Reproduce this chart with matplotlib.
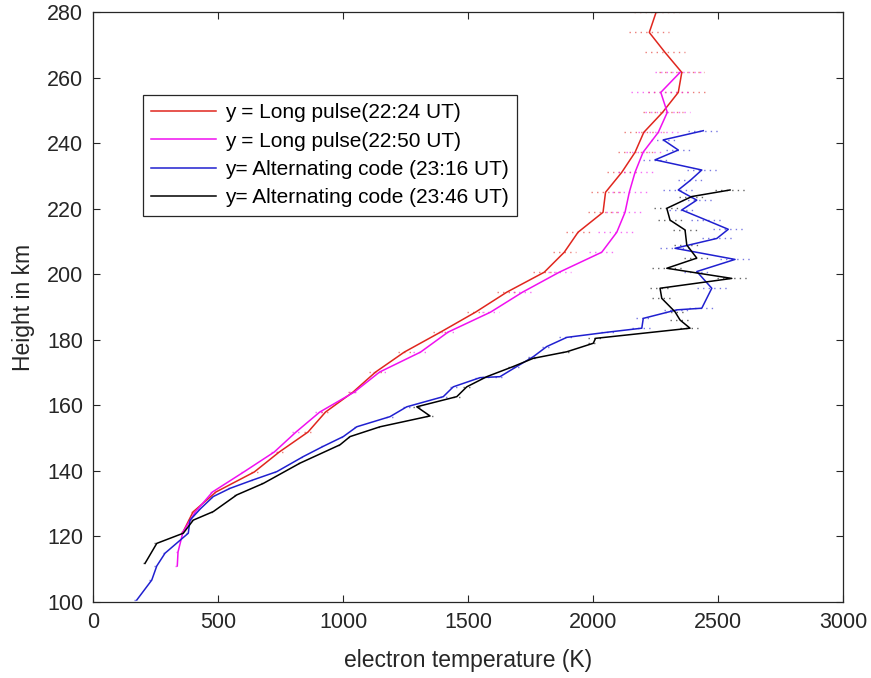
import matplotlib
matplotlib.use("Agg")
import matplotlib.pyplot as plt

plt.rcParams['font.family'] = ['Liberation Sans', 'DejaVu Sans']

# ---- data (height km, electron temperature K, error half-width K) ----
red_h = [280, 273.9, 267.8, 261.7, 255.6, 249.5, 243.4, 237.3, 231.2, 225.1, 219, 212.9, 206.8,
         200.7, 194.6, 188.5, 182.4, 176.3, 170.2, 164.1, 158, 151.9, 145.8, 139.7, 133.6, 127.5, 121.4]
red_t = [2252, 2225, 2288, 2355, 2341, 2278, 2203, 2168, 2115, 2050, 2040, 1940, 1885,
         1805, 1655, 1530, 1390, 1245, 1130, 1040, 930, 860, 745, 645, 492, 400, 360]
red_e = [90, 80, 80, 90, 120, 80, 80, 70, 60, 60, 60, 50, 45,
         45, 40, 35, 30, 25, 25, 20, 20, 15, 15, 15, 10, 10, 10]

mag_h = [261.7, 255.6, 249.5, 243.4, 237.3, 231.2, 225.1, 219, 212.9, 206.8, 200.7, 194.6, 188.5,
         182.4, 176.3, 170.2, 164.1, 158, 151.9, 145.8, 139.7, 133.6, 127.5, 121.4, 115.3, 111]
mag_t = [2348, 2271, 2297, 2261, 2200, 2168, 2145, 2128, 2095, 2035, 1865, 1718, 1590,
         1420, 1310, 1146, 1045, 907, 812, 725, 603, 478, 409, 360, 340, 337]
mag_e = [100, 120, 90, 80, 70, 70, 70, 75, 75, 50, 45, 40, 35,
         30, 30, 25, 20, 20, 15, 15, 10, 10, 10, 10, 10, 10]

blue_h = [243.9, 241.1, 238.0, 235.0, 231.9, 228.8, 225.8, 222.7, 219.7, 216.7, 213.8, 211.0, 208.0,
          204.6, 200.9, 195.8, 189.7, 189.2, 186.6, 183.6, 182.4, 180.8, 178.0, 174.9, 171.9, 168.8,
          168.5, 165.7, 162.7, 159.6, 156.6, 153.5, 150.5, 147.5, 144.4, 139.8, 137.3, 134.7, 132.2,
          128.5, 125.0, 121.0, 114.9, 111.0, 106.7, 100.6]
blue_t = [2441, 2281, 2341, 2248, 2435, 2390, 2341, 2415, 2355, 2450, 2541, 2495, 2328,
          2568, 2415, 2475, 2435, 2335, 2201, 2195, 2060, 1895, 1815, 1761, 1695, 1628,
          1548, 1441, 1401, 1255, 1188, 1055, 1001, 920, 841, 735, 641, 548, 481,
          430, 388, 381, 288, 255, 235, 175]
blue_e = [60, 50, 50, 50, 60, 50, 60, 60, 50, 60, 60, 60, 60,
          60, 50, 60, 50, 50, 30, 40, 30, 30, 20, 20, 20, 20,
          20, 15, 15, 15, 15, 10, 10, 10, 10, 10, 10, 10, 10,
          10, 10, 10, 10, 10, 10, 10]

black_h = [225.8, 223.8, 220.2, 216.6, 213.6, 209.0, 205.0, 201.9, 198.8, 195.8, 192.7, 188.6,
           186.1, 183.6, 180.5, 179.0, 176.4, 174.4, 171.9, 168.8, 165.7, 162.7, 159.6, 156.8,
           153.5, 150.5, 148.0, 142.4, 136.2, 132.7, 127.6, 125.0, 121.0, 117.9, 111.8]
black_t = [2548, 2395, 2295, 2308, 2368, 2375, 2415, 2295, 2555, 2268, 2275, 2328,
           2348, 2388, 2010, 2001, 1895, 1761, 1681, 1575, 1495, 1455, 1295, 1348,
           1148, 1028, 988, 828, 681, 575, 481, 401, 361, 255, 208]
black_e = [60, 50, 50, 50, 50, 50, 50, 60, 60, 40, 40, 40,
           40, 40, 30, 20, 20, 20, 20, 20, 15, 15, 15, 15,
           10, 10, 10, 10, 10, 10, 10, 10, 10, 10, 10]

labels = ["y = Long pulse(22:24 UT)", "y = Long pulse(22:50 UT)",
          "y= Alternating code (23:16 UT)", "y= Alternating code (23:46 UT)"]
xticks = [0, 500, 1000, 1500, 2000, 2500, 3000]
yticks = [100, 120, 140, 160, 180, 200, 220, 240, 260, 280]

series = [
    (red_t, red_h, red_e, '#e0261e'),
    (mag_t, mag_h, mag_e, '#f010f0'),
    (blue_t, blue_h, blue_e, '#2020d0'),
    (black_t, black_h, black_e, '#000000'),
]

fig = plt.figure(figsize=(8.71, 6.78), dpi=100)
ax = fig.add_axes([0.1068, 0.1121, 0.8611, 0.8695])

for t, h, e, c in series:
    lo = [ti - ei for ti, ei in zip(t, e)]
    hi = [ti + ei for ti, ei in zip(t, e)]
    ax.hlines(h, lo, hi, colors=c, linestyles=(0, (1, 3)), linewidth=1.0, alpha=0.6)

for (t, h, e, c), lab in zip(series, labels):
    ax.plot(t, h, color=c, linewidth=1.1, label=lab)

ax.set_xlim(0, 3000)
ax.set_ylim(100, 280)
ax.set_xticks(xticks)
ax.set_yticks(yticks)
ax.tick_params(direction='in', top=True, right=True, labelsize=15.5,
               colors='#262626', length=5, width=0.8, pad=7)
for s in ax.spines.values():
    s.set_color('#262626')
    s.set_linewidth(0.9)
ax.set_xlabel("electron temperature (K)", fontsize=16.5, color='#262626', labelpad=12)
ax.set_ylabel("Height in km", fontsize=16.5, color='#262626', labelpad=9)

leg = ax.legend(loc='upper left', bbox_to_anchor=(0.0667, 0.86), borderaxespad=0,
                fancybox=False, edgecolor='#262626', framealpha=1, fontsize=15,
                handlelength=3.1, handletextpad=0.45, labelspacing=0.45, borderpad=0.4)
leg.get_frame().set_linewidth(0.9)

fig.savefig("out.png", dpi=100)
